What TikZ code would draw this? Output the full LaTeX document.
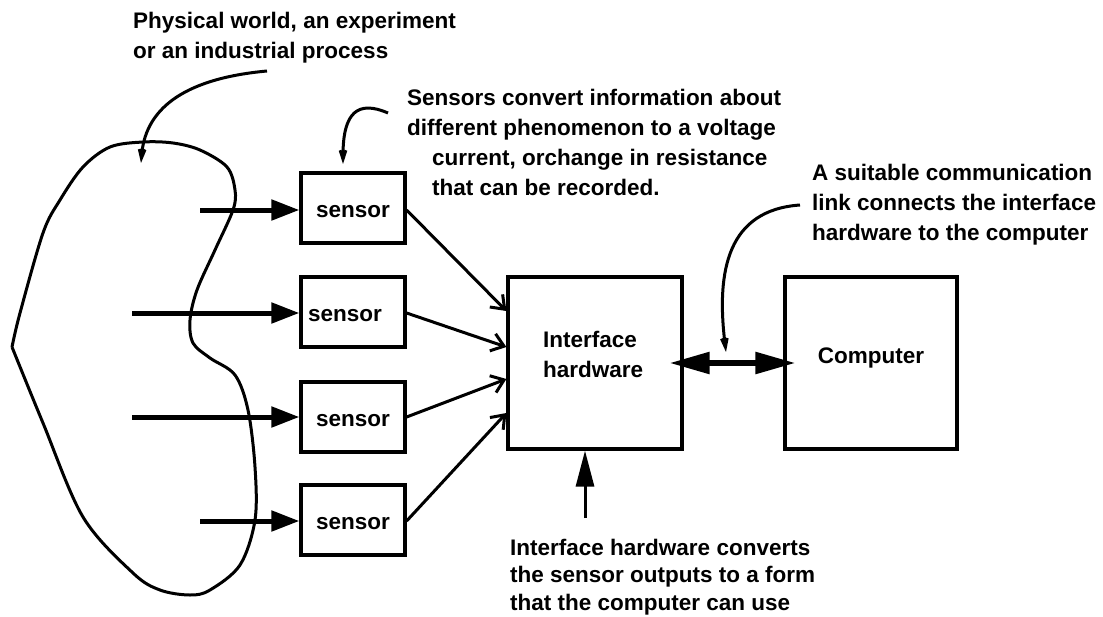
\documentclass[tikz,border=0pt]{standalone}
\usepackage{fontspec}
\setmainfont{Liberation Sans}
\usetikzlibrary{arrows.meta,calc}
\begin{document}
\begin{tikzpicture}[x=1pt,y=-1pt,
  font=\fontsize{22.5}{30}\selectfont\bfseries,
  box/.style={draw,line width=3.2pt,inner sep=0pt},
  sbox/.style={box,minimum width=104pt,minimum height=70pt,text height=18pt,text depth=0pt},
  feed/.style={line width=5pt,-{Triangle[length=28pt,width=20pt]}},
  wire/.style={line width=3pt,-{Straight Barb[length=12pt,width=18pt]}},
  note/.style={line width=3pt,-{Stealth[length=28pt,width=18pt,inset=17pt]}},
  lbl/.style={align=left,inner sep=0pt,anchor=base west}
]
\useasboundingbox (0,0) rectangle (1103,616);

% the physical world / process being measured
\draw[line width=3pt,line join=round] plot[smooth,tension=0.55] coordinates {
  (12,347) (20,313) (43,233) (60,200) (83,167) (110,147) (143,142) (173,143)
  (200,150) (227,167) (235,190) (233,210) (215,250) (197,290) (190,320)
  (193,343) (210,358) (235,375) (248,410) (255,467) (255,520) (240,565)
  (210,590) (190,595) (160,590) (133,573) (83,517) (43,423) (12,347)};

% sensors
\node[sbox] (s1) at (353,208) {sensor};
\node[sbox] (s2) at (353,312) {sensor\hspace*{16pt}};
\node[sbox] (s3) at (353,417) {sensor};
\node[sbox] (s4) at (353,520) {sensor};

% interface hardware and computer
\node[box,minimum width=174pt,minimum height=172pt] (ih) at (595,363) {};
\node[lbl] (iht) at (543,377) {Interface\\hardware};
\node[box,minimum width=172pt,minimum height=172pt,text height=16pt,text depth=16pt] (pc) at (871,363) {Computer};

% signals entering the sensors
\coordinate (i1) at (200,210);
\coordinate (i2) at (132,313);
\coordinate (i3) at (132,417);
\coordinate (i4) at (200,521);
\draw[feed] (i1) -- (i1 -| s1.west);
\draw[feed] (i2) -- (i2 -| s2.west);
\draw[feed] (i3) -- (i3 -| s3.west);
\draw[feed] (i4) -- (i4 -| s4.west);

% sensor outputs to the interface
\draw[wire] ($(s1.east)+(0,2)$) -- ($(ih.west)+(0,-52)$);
\draw[wire] ($(s2.east)+(0,1)$) -- ($(ih.west)+(0,-16)$);
\draw[wire] (s3.east) -- ($(ih.west)+(0,16)$);
\draw[wire] ($(s4.east)+(0,1)$) -- ($(ih.west)+(0,50)$);

% communication link
\draw[line width=5.5pt,{Triangle[length=40pt,width=21pt]}-{Triangle[length=40pt,width=21pt]},
      shorten <=-14pt,shorten >=-12pt] (ih.east) -- (pc.west);

% annotations (anchored on the baseline of their last line)
\node[lbl] (tw) at (133,58) {Physical world, an experiment\\or an industrial process};
\node[lbl] (ts) at (407,195) {Sensors convert information about\\different phenomenon to a voltage\\\hspace*{25pt}current, orchange in resistance\\\hspace*{25pt}that can be recorded.};
\node[lbl] (tl) at (812,240) {A suitable communication\\link connects the interface\\hardware to the computer};
\node[lbl,font=\fontsize{22.5}{27.5}\selectfont\bfseries] (tb) at (510,610) {Interface hardware converts\\the sensor outputs to a form\\that the computer can use};

\coordinate (pw0) at (267,71);
\coordinate (pw1) at (141,163);
\draw[note] (pw0) .. controls (190,78) and (146,105) .. (pw1);

\coordinate (sn0) at (388,113);
\coordinate (sn1) at (343,164);
\draw[note] (sn0) .. controls (358,100) and (343,112) .. (sn1);

\coordinate (ln0) at (800,205);
\coordinate (ln1) at (726,352);
\draw[note] (ln0) .. controls (728,210) and (716,270) .. (ln1);

\coordinate (hw0) at (585,518);
\draw[line width=3pt,-{Triangle[length=36pt,width=18pt]}] (hw0) -- (hw0 |- ih.south);
\end{tikzpicture}
\end{document}
